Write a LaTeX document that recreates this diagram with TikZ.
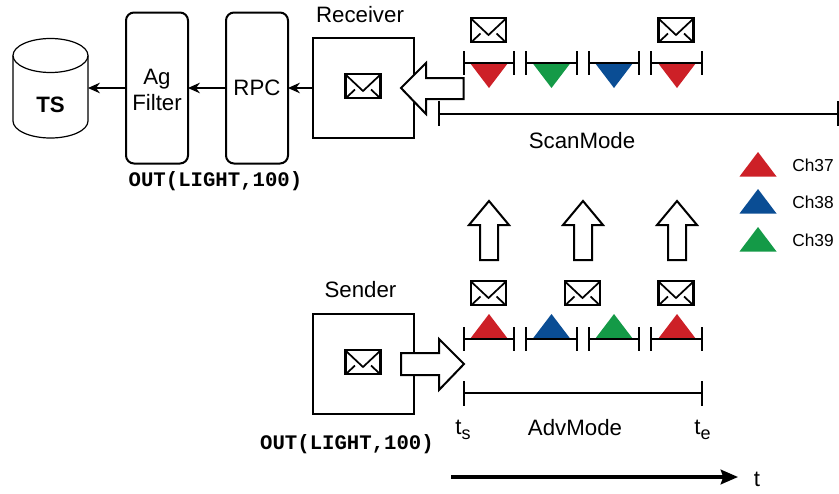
\documentclass[tikz,border=0pt]{standalone}
\usepackage{fontspec}
\setmainfont{Liberation Sans}
\setmonofont{Liberation Mono}
\usetikzlibrary{arrows.meta}

\definecolor{chred}{HTML}{CD2027}
\definecolor{chblue}{HTML}{0A4D94}
\definecolor{chgreen}{HTML}{149A47}

\tikzset{
  plainbox/.style={draw, line width=1.5pt, minimum width=75.75pt, minimum height=75pt, inner sep=0pt, outer sep=0pt},
  tallbox/.style={draw, line width=1.5pt, rounded corners=6pt, minimum width=46.5pt, minimum height=113.25pt, inner sep=0pt, outer sep=0pt, align=center, font=\fontsize{16.7}{20}\selectfont},
  lbl/.style={inner sep=0pt, font=\fontsize{16.7}{20}\selectfont},
  small/.style={inner sep=0pt, font=\fontsize{13}{15}\selectfont},
  code/.style={inner sep=0pt, font=\ttfamily\bfseries\fontsize{15.5}{18}\selectfont},
  link/.style={-{Stealth[length=9pt,width=8pt,inset=3pt]}, line width=0.9pt},
  bararrow/.style={draw, fill=white, line width=1.5pt, miter limit=10},
  span/.style={line width=1.5pt},
}

\newcommand{\mailicon}[2]{%
  \draw[line width=1.6pt, fill=white] (#1-17.5,#2-12) rectangle (#1+17.5,#2+12);
  \draw[line width=1.3pt] (#1-17,#2-11) -- (#1,#2+5) -- (#1+17,#2-11);
  \draw[line width=1.3pt] (#1-16,#2+11) -- (#1-8,#2+3.5);
  \draw[line width=1.3pt] (#1+16,#2+11) -- (#1+8,#2+3.5);
}
\newcommand{\subtxt}[1]{{\fontsize{13.5}{15}\selectfont\raisebox{-3.5pt}{#1}}}

\begin{document}
\begin{tikzpicture}[x=0.75pt,y=-0.75pt]
  \useasboundingbox (0,0) rectangle (839,493);

  % chain at the receiver
  \node[minimum width=56.25pt, minimum height=75pt, inner sep=0pt, outer sep=0pt] (ts) at (50.5,88) {};
  \draw[line width=0.9pt] (13,55.5) -- (13,121) arc[start angle=180, delta angle=-180, x radius=37.5, y radius=17] -- (88,55.5);
  \draw[line width=0.9pt] (50.5,55.5) ellipse[x radius=37.5, y radius=17];
  \node[lbl, font=\bfseries\fontsize{16.7}{20}\selectfont] (tslabel) at (50.5,105) {TS};
  \node[tallbox] (agfilter) at (157,88) {\rule{0pt}{14.5pt}Ag\\Filter};
  \node[tallbox] (rpc) at (257,88) {RPC};
  \node[plainbox] (receiver) at (363.5,88) {};
  \node[lbl] (receiverlabel) at (360,15) {Receiver};
  \node[code] (outtop) at (215.5,181.5) {OUT(LIGHT,100)};
  \draw[link] (receiver.west) -- (rpc.east);
  \draw[link] (rpc.west) -- (agfilter.east);
  \draw[link] (agfilter.west) -- (ts.east);
  \mailicon{363}{86}

  % sender
  \node[plainbox] (sender) at (363.5,364) {};
  \node[lbl] (senderlabel) at (360.5,290) {Sender};
  \node[code] (outbottom) at (347,444.5) {OUT(LIGHT,100)};
  \mailicon{363}{362}

  % scan slots
  \foreach \xa/\xb/\xm/\col in {463.5/514/489/chred, 526/577/551.5/chgreen, 588.5/639/614/chblue, 651/702/677/chred} {
    \fill[\col] (\xm-19,63) -- (\xm+19,63) -- (\xm,88) -- cycle;
    \draw[span] (\xa,51) -- (\xa,75);
    \draw[span] (\xb,51) -- (\xb,75);
    \draw[span] (\xa,63) -- (\xb,63);
  }
  \mailicon{488.5}{30}
  \mailicon{676}{30}

  % adv slots
  \foreach \xa/\xb/\xm/\col in {463.5/514/489/chred, 526/577/551.5/chblue, 588.5/639/614/chgreen, 651/702/677/chred} {
    \fill[\col] (\xm-19,339) -- (\xm+19,339) -- (\xm,314) -- cycle;
    \draw[span] (\xa,327) -- (\xa,351);
    \draw[span] (\xb,327) -- (\xb,351);
    \draw[span] (\xa,339) -- (\xb,339);
  }
  \foreach \xm in {488.5,582.5,676} {
    \mailicon{\xm}{293}
  }

  % block arrows
  \draw[bararrow] (401,88) -- (426,63) -- (426,78) -- (463.5,78) -- (463.5,99) -- (426,99) -- (426,114) -- cycle;
  \draw[bararrow] (464,364) -- (439,339) -- (439,353) -- (401,353) -- (401,375) -- (439,375) -- (439,390) -- cycle;
  \foreach \xm in {489,583,677} {
    \draw[bararrow] (\xm,201) -- (\xm+20,225) -- (\xm+9,225) -- (\xm+9,260) -- (\xm-9,260) -- (\xm-9,225) -- (\xm-20,225) -- cycle;
  }

  % mode spans
  \draw[span] (439,101) -- (439,126);
  \draw[span] (838,101) -- (838,126);
  \draw[span] (439,113.5) -- (838,113.5);
  \node[lbl] (scanlabel) at (582,141) {ScanMode};

  \draw[span] (464,381) -- (464,406);
  \draw[span] (702,381) -- (702,406);
  \draw[span] (464,393) -- (702,393);
  \node[lbl] (advlabel) at (575,428) {AdvMode};
  \node[lbl] (tstart) at (463,430) {t\subtxt{s}};
  \node[lbl] (tend) at (702.5,430) {t\subtxt{e}};

  % time axis
  \coordinate (axisstart) at (451,477);
  \coordinate (axisend) at (738,477);
  \draw[-{Stealth[length=13pt,width=11pt,inset=2pt]}, line width=2.4pt] (axisstart) -- (axisend);
  \node[lbl] (tlabel) at (757,479) {t};

  % legend
  \foreach \ya/\col/\txt in {152/chred/Ch37, 189/chblue/Ch38, 227/chgreen/Ch39} {
    \fill[\col] (758,\ya) -- (776.5,\ya+24.5) -- (739.5,\ya+24.5) -- cycle;
    \node[small, anchor=west] at (792,\ya+13) {\txt};
  }
\end{tikzpicture}
\end{document}
